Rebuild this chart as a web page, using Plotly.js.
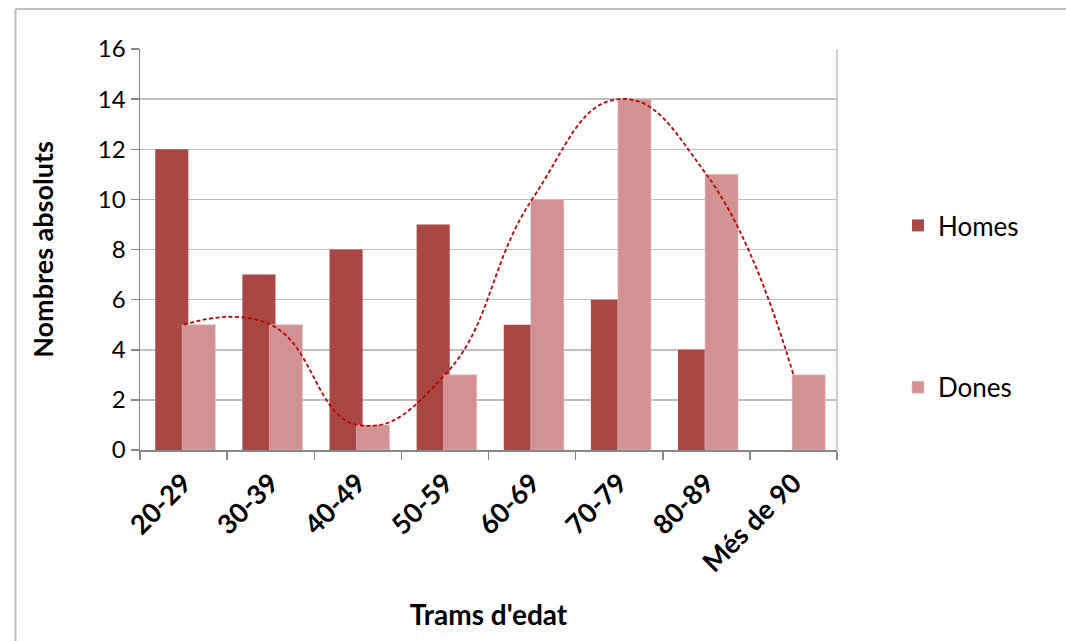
<!DOCTYPE html>
<html>
<head>
<meta charset="utf-8">
<script src="https://cdn.plot.ly/plotly-3.0.1.min.js"></script>
<style>
  html, body { margin: 0; padding: 0; background: #ffffff; }
  #chart { width: 1066px; height: 641px; }
</style>
</head>
<body>
<div id="chart"></div>
<script>
const categories = ["20-29", "30-39", "40-49", "50-59", "60-69", "70-79", "80-89", "Més de 90"];
const homes = [12, 7, 8, 9, 5, 6, 4, 0];
const dones = [5, 5, 1, 3, 10, 14, 11, 3];
const yTicks = [0, 2, 4, 6, 8, 10, 12, 14, 16];

const FONT = "Lato, 'Open Sans', sans-serif";
const W = 1066, H = 641;
const L = 140, R = 837, T = 49, B = 450;
const pw = R - L, ph = B - T;
const px = v => (v - L) / pw;
const py = v => (B - v) / ph;

const traces = [
  {
    type: "bar", name: "Homes", x: categories, y: homes,
    marker: { color: "#A94744", line: { width: 0 } },
    width: 0.38, offset: -0.325, legendgroup: "h", hoverinfo: "x+y"
  },
  {
    type: "bar", name: "Dones", x: categories, y: dones,
    marker: { color: "#D39292", line: { color: "#E8C4C4", width: 0.6 } },
    width: 0.38, offset: -0.015, legendgroup: "d", hoverinfo: "x+y"
  },
  {
    type: "scatter", mode: "lines", x: categories, y: dones, showlegend: false,
    line: { color: "#C00000", width: 1.8, dash: "4px,2.5px", shape: "spline", smoothing: 1.3 },
    hoverinfo: "skip"
  }
];

const layout = {
  width: W, height: H,
  margin: { l: L, r: W - R, t: T, b: H - B },
  paper_bgcolor: "#ffffff", plot_bgcolor: "#ffffff",
  barmode: "overlay",
  font: { family: FONT, color: "#000000" },
  xaxis: {
    type: "category",
    range: [-0.5, categories.length - 0.5],
    tickson: "boundaries",
    ticks: "outside", ticklen: 8, tickcolor: "#868686", tickwidth: 1.5,
    showline: true, linecolor: "#868686", linewidth: 1.5,
    showgrid: false,
    tickangle: -45,
    ticklabelstandoff: 5,
    tickfont: { family: FONT, size: 27, color: "#000000", weight: "bold" },
    title: { text: "Trams d'edat", font: { family: FONT, size: 28, color: "#000000", weight: "bold" }, standoff: 28 }
  },
  yaxis: {
    range: [0, 16],
    tickvals: yTicks,
    ticks: "outside", ticklen: 8, tickcolor: "#868686", tickwidth: 1.5,
    showline: true, linecolor: "#868686", linewidth: 1.5,
    showgrid: true, gridcolor: "#BEBEBE", gridwidth: 1.5,
    zeroline: false,
    tickfont: { family: FONT, size: 24, color: "#000000" },
    title: { text: "Nombres absoluts", font: { family: FONT, size: 27, color: "#000000", weight: "bold" }, standoff: 36 }
  },
  legend: {
    x: px(898), y: py(202), xanchor: "left", yanchor: "top",
    font: { family: FONT, size: 26, color: "#000000" },
    traceorder: "grouped", tracegroupgap: 125,
    itemwidth: 30, bgcolor: "rgba(0,0,0,0)"
  },
  shapes: [
    { type: "line", xref: "paper", yref: "paper", x0: 1, x1: 1, y0: 0, y1: 1, line: { color: "#BEBEBE", width: 1.5 } },
    { type: "line", xref: "paper", yref: "paper", x0: px(15.5), x1: px(15.5), y0: py(H + 2), y1: py(9), line: { color: "#BEBEBE", width: 2 } },
    { type: "line", xref: "paper", yref: "paper", x0: px(15.5), x1: px(W + 2), y0: py(9), y1: py(9), line: { color: "#BEBEBE", width: 2 } }
  ]
};

Plotly.newPlot("chart", traces, layout, { displayModeBar: false, staticPlot: true });
</script>
</body>
</html>
